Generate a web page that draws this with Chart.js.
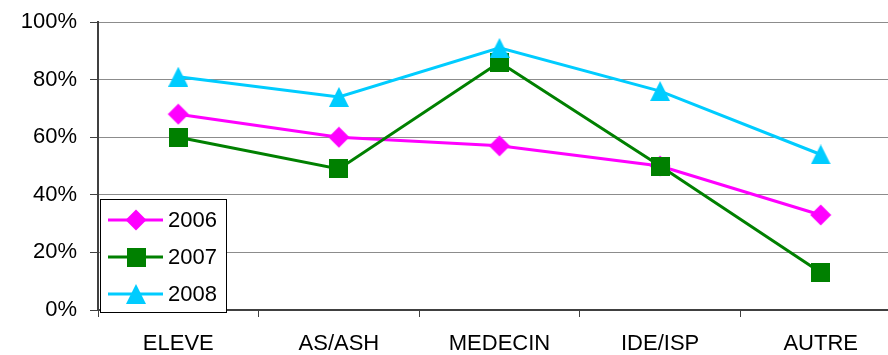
<!DOCTYPE html>
<html>
<head>
<meta charset="utf-8">
<script src="https://cdn.jsdelivr.net/npm/chart.js@4/dist/chart.umd.min.js"></script>
<style>
  html, body { margin: 0; padding: 0; background: #fff; overflow: hidden; }
  #wrap { width: 888px; height: 355px; position: relative; }
  canvas { display: block; }
</style>
</head>
<body>
<div id="wrap"><canvas id="chart" width="888" height="355"></canvas></div>
<script>
// Categories and yearly percentages
const categories = ['ELEVE', 'AS/ASH', 'MEDECIN', 'IDE/ISP', 'AUTRE'];
const years = ['2006', '2007', '2008'];
const values2006 = [68, 60, 57, 50, 33];
const values2007 = [60, 49, 86, 50, 13];
const values2008 = [81, 74, 91, 76, 54];
const yTicks = [0, 20, 40, 60, 80, 100];

const FONT = "'Liberation Sans', Arial, sans-serif";
const MAGENTA = '#FF00FF';
const GREEN = '#008000';
const CYAN = '#00CCFF';
// The plot runs a little past the right edge of the canvas
const PLOT_OVERHANG = 13;

// Marker images
function markerCanvas(size, draw) {
  const c = document.createElement('canvas');
  c.width = size; c.height = size;
  const g = c.getContext('2d');
  draw(g, size);
  return c;
}
const diamond = markerCanvas(22, (g, s) => {
  g.fillStyle = MAGENTA;
  g.beginPath();
  g.moveTo(s / 2, 0.5); g.lineTo(s - 0.5, s / 2);
  g.lineTo(s / 2, s - 0.5); g.lineTo(0.5, s / 2);
  g.closePath(); g.fill();
});
const square = markerCanvas(19, (g, s) => {
  g.fillStyle = GREEN;
  g.fillRect(0, 0, s, s);
});
const triangle = markerCanvas(20, (g, s) => {
  g.fillStyle = CYAN;
  g.beginPath();
  g.moveTo(s / 2, 0); g.lineTo(s, s); g.lineTo(0, s);
  g.closePath(); g.fill();
});

// Widen the plot area past the canvas edge after layout
const extendPlot = {
  id: 'extendPlot',
  afterLayout(chart) {
    const area = chart.chartArea;
    area.right = chart.width + PLOT_OVERHANG;
    area.width = area.right - area.left;
    const x = chart.scales.x;
    x.right = area.right;
    x.width = x.right - x.left;
    x.configure();
  }
};

// Boxed legend drawn inside the plot, with a line through each marker
const boxLegend = {
  id: 'boxLegend',
  afterDraw(chart) {
    const ctx = chart.ctx;
    const x = 100, y = 199, w = 126, h = 113;
    ctx.save();
    ctx.fillStyle = '#fff';
    ctx.fillRect(x, y, w, h);
    ctx.strokeStyle = '#000';
    ctx.lineWidth = 1;
    ctx.strokeRect(x + 0.5, y + 0.5, w, h);
    chart.data.datasets.forEach((ds, i) => {
      const cy = 220 + i * 37;
      ctx.strokeStyle = ds.borderColor;
      ctx.lineWidth = 3;
      ctx.beginPath();
      ctx.moveTo(108, cy); ctx.lineTo(163, cy);
      ctx.stroke();
      const img = ds.pointStyle;
      ctx.drawImage(img, Math.round(136 - img.width / 2), Math.round(cy - img.height / 2));
      ctx.fillStyle = '#000';
      ctx.font = '22px ' + FONT;
      ctx.textAlign = 'left';
      ctx.textBaseline = 'middle';
      ctx.fillText(ds.label, 168, cy + 1);
    });
    ctx.restore();
  }
};

const chart = new Chart(document.getElementById('chart'), {
  type: 'line',
  data: {
    labels: categories,
    datasets: [
      { label: years[0], data: values2006, borderColor: MAGENTA, backgroundColor: MAGENTA,
        pointStyle: diamond, order: 2 },
      { label: years[1], data: values2007, borderColor: GREEN, backgroundColor: GREEN,
        pointStyle: square, order: 1 },
      { label: years[2], data: values2008, borderColor: CYAN, backgroundColor: CYAN,
        pointStyle: triangle, order: 0 }
    ]
  },
  options: {
    responsive: false,
    animation: false,
    events: [],
    layout: { padding: { top: 22, right: 0, left: 0, bottom: 0 } },
    elements: {
      line: { borderWidth: 3, tension: 0, fill: false },
      point: { radius: 10, hoverRadius: 10 }
    },
    plugins: {
      legend: { display: false },
      tooltip: { enabled: false }
    },
    scales: {
      x: {
        type: 'category',
        offset: true,
        grid: { offset: true, drawOnChartArea: false, drawTicks: true, tickLength: 7,
                color: '#404040', tickColor: '#404040', lineWidth: 1 },
        border: { display: true, color: '#404040', width: 2 },
        ticks: { color: '#000', font: { family: FONT, size: 22 }, padding: 14, maxRotation: 0 },
        afterFit(scale) {
          scale.height = 45;
          scale.paddingLeft = 0;
          scale.paddingRight = 0;
        }
      },
      y: {
        min: 0,
        max: 100,
        afterBuildTicks(scale) { scale.ticks = yTicks.map(v => ({ value: v })); },
        grid: { color: '#8c8c8c', tickColor: '#404040', tickLength: 8, lineWidth: 1 },
        border: { display: true, color: '#404040', width: 2 },
        ticks: { color: '#000', font: { family: FONT, size: 22 }, padding: 13,
                 callback: v => v + '%' },
        afterFit(scale) {
          scale.width = 98;
          scale.paddingTop = 0;
          scale.paddingBottom = 0;
        }
      }
    }
  },
  plugins: [extendPlot, boxLegend]
});
</script>
</body>
</html>
